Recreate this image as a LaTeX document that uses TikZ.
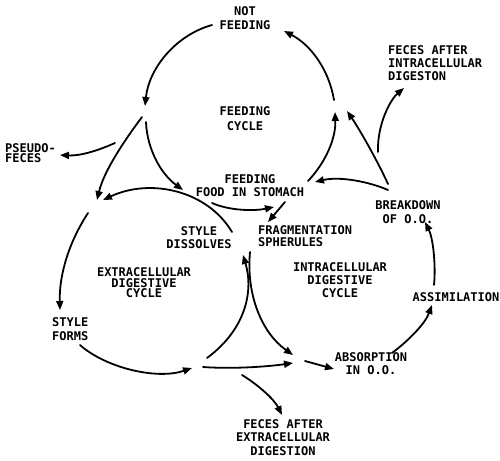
\documentclass[tikz,border=0pt]{standalone}
\usepackage{fontspec}
\newfontfamily\lettering{DejaVu Sans Mono}
\usetikzlibrary{arrows.meta}
\tikzset{
  lab/.style={font={\lettering\bfseries\fontsize{12}{13}\selectfont}, align=center, inner sep=0pt},
  sk/.style={font={\lettering\bfseries\fontsize{12}{#1}\selectfont}},
  arr/.style={line width=1.8pt, line cap=round, -{Triangle[length=9pt,width=7pt]}},
}
\begin{document}
\begin{tikzpicture}[x=1pt,y=-1pt]
\fill[white] (0,0) rectangle (500,460);
\useasboundingbox (0,0) rectangle (500,460);

% text nodes
\node[lab, sk=13.5] (notfeed) at (245,18) {NOT\\FEEDING};
\node[lab, sk=15] (fcycle) at (245,118.5) {FEEDING\\CYCLE};
\node[lab, sk=10.5, align=left, anchor=west] (pseudo) at (5,153) {PSEUDO-\\FECES};
\node[lab, sk=13] (feeding) at (250,185.5) {FEEDING\\FOOD IN STOMACH};
\node[lab, sk=13] (stdiss) at (199,237.5) {STYLE\\DISSOLVES};
\node[lab, sk=12, align=left, anchor=west] (frag) at (258,236) {FRAGMENTATION\\SPHERULES};
\node[lab, sk=10.5] (extra) at (144,283) {EXTRACELLULAR\\DIGESTIVE\\CYCLE};
\node[lab, sk=13.25] (intra) at (340,280) {INTRACELLULAR\\DIGESTIVE\\CYCLE};
\node[lab, sk=14, align=left, anchor=west] (stforms) at (52,329) {STYLE\\FORMS};
\node[lab] (assim) at (456,297) {ASSIMILATION};
\node[lab, sk=13] (absorp) at (371,363.5) {ABSORPTION\\IN O.O.};
\node[lab, sk=13.5] (fextra) at (283,437.5) {FECES AFTER\\EXTRACELLULAR\\DIGESTION};
\node[lab, sk=13.5] (breakd) at (408,212) {BREAKDOWN\\OF O.O.};
\node[lab, sk=12.75, align=left, anchor=west] (fintra) at (388,63) {FECES AFTER\\INTRACELLULAR\\DIGESTON};

% connector end points
\coordinate (a1s) at (212,25);  \coordinate (a1e) at (145,106);
\coordinate (a2s) at (334,100); \coordinate (a2e) at (284,31);
\coordinate (b1s) at (142,117); \coordinate (b1e) at (97,200);
\coordinate (b2s) at (146,122); \coordinate (b2e) at (183,190);
\coordinate (ps)  at (115,143); \coordinate (pe)  at (60,155);
\coordinate (g3s) at (308,181); \coordinate (g3e) at (335,112);
\coordinate (c1s) at (232,232); \coordinate (c1e) at (103,200);
\coordinate (c2s) at (88,213);  \coordinate (c2e) at (60,310);
\coordinate (c3s) at (80,345);  \coordinate (c3e) at (192,368);
\coordinate (c4s) at (207,358); \coordinate (c4e) at (243,255);
\coordinate (d1s) at (250,252); \coordinate (d1e) at (293,355);
\coordinate (e1s) at (203,367); \coordinate (e1e) at (293,363);
\coordinate (f1s) at (242,375); \coordinate (f1e) at (282,415);
\coordinate (d2s) at (305,361); \coordinate (d2e) at (334,369);
\coordinate (d3s) at (392,353); \coordinate (d3e) at (432,305);
\coordinate (d4s) at (434,285); \coordinate (d4e) at (425,222);
\coordinate (g1s) at (212,203); \coordinate (g1e) at (274,207);
\coordinate (g2s) at (285,202); \coordinate (g2e) at (268,222);
\coordinate (g4s) at (388,184); \coordinate (g4e) at (347,111);
\coordinate (g5s) at (388,190); \coordinate (g5e) at (315,182);
\coordinate (g6s) at (378,152); \coordinate (g6e) at (404,88);

% feeding cycle
\draw[arr] (a1s) .. controls (176,35) and (149,68) .. (a1e);
\draw[arr] (a2s) .. controls (329,70) and (311,45) .. (a2e);
\draw[arr] (b2s) .. controls (147,149) and (161,174) .. (b2e);
\draw[arr] (g3s) .. controls (326,162) and (336,138) .. (g3e);
\draw[arr] (b1s) .. controls (124,141) and (104,171) .. (b1e);
\draw[arr] (ps) .. controls (97,151) and (80,156) .. (pe);

% extracellular cycle
\draw[arr] (c1s) .. controls (207,190) and (150,178) .. (c1e);
\draw[arr] (c2s) .. controls (69,242) and (59,275) .. (c2e);
\draw[arr] (c3s) .. controls (106,368) and (157,380) .. (c3e);
\draw[arr] (c4s) .. controls (245,330) and (254,292) .. (c4e);

% intracellular cycle
\draw[arr] (d1s) .. controls (246,295) and (262,333) .. (d1e);
\draw[arr] (e1s) .. controls (230,369) and (265,367) .. (e1e);
\draw[arr] (f1s) .. controls (257,384) and (274,399) .. (f1e);
\draw[arr] (d2s) -- (d2e);
\draw[arr] (d3s) .. controls (408,341) and (425,324) .. (d3e);
\draw[arr] (d4s) .. controls (436,265) and (433,238) .. (d4e);

% middle
\draw[arr] (g1s) .. controls (230,211) and (255,211) .. (g1e);
\draw[arr] (g2s) -- (g2e);
\draw[arr] (g4s) .. controls (378,162) and (360,130) .. (g4e);
\draw[arr] (g5s) .. controls (370,182) and (340,176) .. (g5e);
\draw[arr] (g6s) .. controls (377,125) and (390,100) .. (g6e);
\end{tikzpicture}
\end{document}
